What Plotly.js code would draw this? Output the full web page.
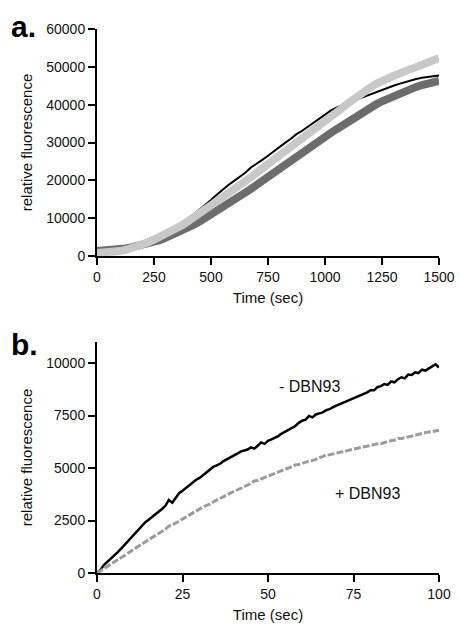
<!DOCTYPE html>
<html>
<head>
<meta charset="utf-8">
<script src="https://cdn.plot.ly/plotly-3.0.1.min.js"></script>
<style>html,body{margin:0;padding:0;background:#fff;}#chart{width:460px;height:626px;}</style>
</head>
<body>
<div id="chart"></div>
<script>
// Panel a: time (sec) every 25 s
var timeA = [0,25,50,75,100,125,150,175,200,225,250,275,300,325,350,375,400,425,450,475,500,525,550,575,600,625,650,675,700,725,750,775,800,825,850,875,900,925,950,975,1000,1025,1050,1075,1100,1125,1150,1175,1200,1225,1250,1275,1300,1325,1350,1375,1400,1425,1450,1475,1500];
var blackA = [1000,1050,1100,1300,1600,2000,2500,3100,3700,4300,5000,5700,6500,7200,8000,9000,10000,11100,12300,13500,14800,16200,17500,18700,19800,20900,22000,23400,24300,25400,26500,27700,28800,29900,31000,32200,33100,34200,35200,36400,37400,38400,39200,39900,40500,41100,41600,42200,42800,43300,43900,44500,45000,45500,46000,46500,46800,47100,47300,47600,47700];
var lightA = [800,850,900,1050,1300,1600,2000,2500,3000,3600,4300,5000,5700,6500,7300,8200,9200,10200,11300,12400,13500,14600,15700,16700,17600,18600,19700,20800,22000,23100,24300,25400,26600,27900,29200,30200,31300,32400,33500,34600,35700,36800,38000,39100,40300,41500,42600,43600,44600,45500,46400,47000,47600,48200,48800,49400,50000,50600,51100,51700,52300];
var darkA = [1300,1350,1400,1600,1800,2000,2300,2600,2900,3300,3700,4200,4800,5400,6000,6700,7500,8300,9100,10000,10900,11800,12700,13600,14600,15600,16600,17700,18800,19900,21000,22100,23200,24300,25400,26500,27500,28500,29500,30500,31500,32500,33500,34500,35500,36600,37600,38500,39300,40100,40900,41600,42300,43000,43600,44200,44700,45200,45600,46000,46300];
var ticksA = [0,250,500,750,1000,1250,1500];
var yTicksA = [0,10000,20000,30000,40000,50000,60000];

// Panel b: time (sec) every 1 s
var timeB = [0,1,2,3,4,5,6,7,8,9,10,11,12,13,14,15,16,17,18,19,20,21,22,23,24,25,26,27,28,29,30,31,32,33,34,35,36,37,38,39,40,41,42,43,44,45,46,47,48,49,50,51,52,53,54,55,56,57,58,59,60,61,62,63,64,65,66,67,68,69,70,71,72,73,74,75,76,77,78,79,80,81,82,83,84,85,86,87,88,89,90,91,92,93,94,95,96,97,98,99,100];
var minusDBN = [0,150,380,520,680,800,980,1150,1330,1520,1700,1880,2030,2220,2400,2520,2650,2760,2900,3050,3200,3480,3350,3600,3800,3920,4050,4180,4320,4440,4530,4660,4780,4950,5050,5120,5200,5330,5410,5500,5580,5680,5780,5820,5880,5980,5920,6060,6220,6150,6290,6360,6440,6520,6640,6740,6840,6920,7000,7150,7250,7300,7480,7410,7550,7600,7650,7750,7800,7900,7970,8050,8100,8180,8250,8310,8380,8450,8510,8600,8700,8700,8850,8900,9000,8960,9120,9080,9230,9320,9270,9450,9430,9560,9520,9680,9640,9760,9840,9940,9780];
var plusDBN = [0,100,200,300,400,500,610,720,830,940,1050,1160,1260,1370,1470,1580,1680,1780,1880,1980,2080,2230,2280,2380,2480,2580,2670,2770,2860,2960,3050,3140,3220,3280,3390,3480,3560,3640,3720,3800,3880,3960,4030,4110,4180,4260,4380,4400,4480,4550,4620,4680,4750,4810,4880,4940,5000,5060,5150,5170,5230,5280,5330,5350,5440,5490,5540,5620,5630,5670,5720,5760,5790,5830,5860,5900,5940,6000,6010,6040,6080,6120,6150,6160,6220,6260,6300,6330,6400,6400,6440,6480,6510,6550,6610,6620,6660,6720,6730,6760,6800];
var ticksB = [0,25,50,75,100];
var yTicksB = [0,2500,5000,7500,10000];

var FONT = 'Liberation Sans, Arial, sans-serif';

var traces = [
  {x: timeA, y: darkA, mode: 'lines', line: {color: '#6c6c6c', width: 8}, xaxis: 'x', yaxis: 'y', showlegend: false, hoverinfo: 'skip'},
  {x: timeA, y: blackA, mode: 'lines', line: {color: '#000000', width: 2}, xaxis: 'x', yaxis: 'y', showlegend: false, hoverinfo: 'skip'},
  {x: timeA, y: lightA, mode: 'lines', line: {color: '#c8c8c8', width: 8}, xaxis: 'x', yaxis: 'y', showlegend: false, hoverinfo: 'skip'},
  {x: timeB, y: minusDBN, mode: 'lines', line: {color: '#000000', width: 2.5}, xaxis: 'x2', yaxis: 'y2', showlegend: false, hoverinfo: 'skip'},
  {x: timeB, y: plusDBN, mode: 'lines', line: {color: '#9c9c9c', width: 3, dash: '7px,2px'}, xaxis: 'x2', yaxis: 'y2', showlegend: false, hoverinfo: 'skip'}
];

function xax(ticks, range, anchor) {
  return {
    domain: [97/460, 439/460], anchor: anchor, range: range,
    tickmode: 'array', tickvals: ticks, ticktext: ticks.map(String),
    showline: true, linecolor: '#000', linewidth: 2,
    ticks: 'outside', ticklen: 7, tickwidth: 2, tickcolor: '#000',
    showgrid: false, zeroline: false,
    tickfont: {family: FONT, size: 14, color: '#111'},
    title: {text: 'Time (sec)', font: {family: FONT, size: 15, color: '#111'}, standoff: 9}
  };
}
function yax(domain, ticks, range, anchor) {
  return {
    domain: domain, anchor: anchor, range: range,
    tickmode: 'array', tickvals: ticks, ticktext: ticks.map(String),
    showline: true, linecolor: '#000', linewidth: 2,
    ticks: 'outside', ticklen: 7, tickwidth: 2, tickcolor: '#000',
    showgrid: false, zeroline: false,
    tickfont: {family: FONT, size: 14, color: '#111'},
    title: {text: 'relative fluorescence', font: {family: FONT, size: 15, color: '#111'}, standoff: 10}
  };
}

var layout = {
  width: 460, height: 626,
  margin: {l: 0, r: 0, t: 0, b: 0},
  paper_bgcolor: '#fff', plot_bgcolor: '#fff',
  xaxis: xax(ticksA, [0, 1500], 'y'),
  yaxis: yax([(626-256)/626, (626-29)/626], yTicksA, [0, 60000], 'x'),
  xaxis2: xax(ticksB, [0, 100], 'y2'),
  yaxis2: yax([(626-573)/626, (626-342)/626], yTicksB, [0, 11000], 'x2'),
  annotations: [
    {xref: 'paper', yref: 'paper', x: 9/460, y: 1 - 8/626, xanchor: 'left', yanchor: 'top', text: '<b>a.</b>', showarrow: false, font: {family: FONT, size: 30, color: '#000'}},
    {xref: 'paper', yref: 'paper', x: 9/460, y: 1 - 326/626, xanchor: 'left', yanchor: 'top', text: '<b>b.</b>', showarrow: false, font: {family: FONT, size: 30, color: '#000'}},
    {xref: 'x2', yref: 'y2', x: 62, y: 8900, text: '- DBN93', showarrow: false, font: {family: FONT, size: 16, color: '#111'}},
    {xref: 'x2', yref: 'y2', x: 79, y: 3800, text: '+ DBN93', showarrow: false, font: {family: FONT, size: 16, color: '#111'}}
  ]
};

Plotly.newPlot('chart', traces, layout, {staticPlot: true, displayModeBar: false});
</script>
</body>
</html>
